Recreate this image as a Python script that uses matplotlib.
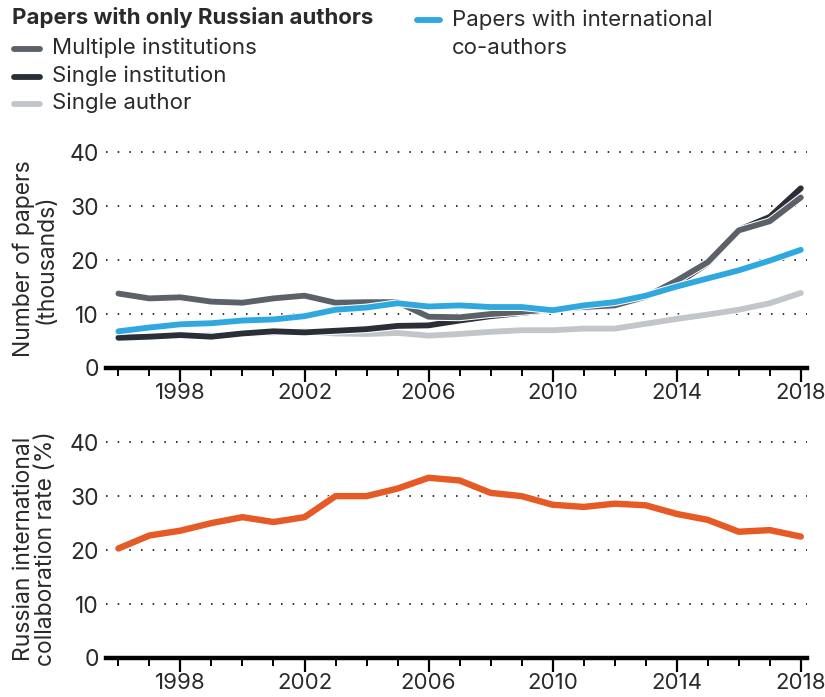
import matplotlib.pyplot as plt
import matplotlib.patheffects as pe
from matplotlib.lines import Line2D
from matplotlib.ticker import MultipleLocator, FixedLocator

plt.rcParams['font.family'] = ['Inter', 'DejaVu Sans']

# Data
years = list(range(1996, 2019))
multiple_inst = [13.8, 12.9, 13.1, 12.3, 12.1, 12.9, 13.4, 12.1, 12.2, 12.2, 9.5, 9.4,
                 10.0, 10.4, 10.9, 11.3, 11.6, 13.2, 16.2, 19.6, 25.5, 27.2, 31.6]
single_inst = [5.6, 5.8, 6.1, 5.8, 6.4, 6.8, 6.6, 6.9, 7.2, 7.8, 7.9, 8.8,
               9.6, 10.2, 10.8, 11.2, 11.5, 13.3, 15.6, 19.4, 25.6, 28.0, 33.3]
single_author = [5.7, 5.9, 6.1, 6.0, 6.3, 6.6, 6.8, 6.4, 6.3, 6.5, 6.0, 6.3,
                 6.7, 7.0, 7.0, 7.3, 7.3, 8.2, 9.1, 9.9, 10.8, 12.0, 13.9]
international = [6.8, 7.5, 8.1, 8.3, 8.8, 9.0, 9.6, 10.8, 11.2, 12.0, 11.4, 11.6,
                 11.3, 11.3, 10.7, 11.6, 12.2, 13.4, 15.1, 16.6, 18.1, 19.9, 21.9]
collab_rate = [20.3, 22.7, 23.6, 25.0, 26.1, 25.2, 26.1, 30.0, 30.0, 31.4, 33.4, 32.9,
               30.6, 30.0, 28.4, 28.0, 28.6, 28.3, 26.7, 25.6, 23.4, 23.7, 22.5]
y_ticks = [0, 10, 20, 30, 40]
x_labels = [1998, 2002, 2006, 2010, 2014, 2018]

c_mult = '#5c6169'
c_single = '#2a2f37'
c_author = '#c2c5ca'
c_blue = '#2ea8df'
c_orange = '#e65a25'
txt = '#2a2a2a'
LW = 4.2
FS = 16      # legend text
TFS = 16     # tick labels
LFS = 16.5   # axis labels

fig = plt.figure(figsize=(8.25, 6.97), dpi=100)
ax1 = fig.add_axes([106 / 825, 1 - 368 / 697, 701 / 825, 218 / 697])
ax2 = fig.add_axes([106 / 825, 1 - 658 / 697, 701 / 825, 218 / 697])

stroke = [pe.Stroke(linewidth=LW + 1.5, foreground='white'), pe.Normal()]

ax1.plot(years, single_author, color=c_author, lw=LW, path_effects=stroke, solid_capstyle='round')
ax1.plot(years, single_inst, color=c_single, lw=LW, path_effects=stroke, solid_capstyle='round')
ax1.plot(years, multiple_inst, color=c_mult, lw=LW, path_effects=stroke, solid_capstyle='round')
ax1.plot(years, international, color=c_blue, lw=LW, path_effects=stroke, solid_capstyle='round')

ax2.plot(years, collab_rate, color=c_orange, lw=LW + 0.4, path_effects=stroke, solid_capstyle='round')

for ax in (ax1, ax2):
    ax.set_xlim(1995.6, 2018.2)
    ax.set_ylim(0, 40.4)
    for s in ('top', 'right', 'left'):
        ax.spines[s].set_visible(False)
    ax.spines['bottom'].set_linewidth(3.2)
    ax.spines['bottom'].set_color('black')
    ax.set_yticks(y_ticks)
    ax.tick_params(axis='y', length=0, pad=5, labelsize=TFS + 0.5, labelcolor=txt)
    ax.xaxis.set_major_locator(FixedLocator(x_labels))
    ax.xaxis.set_minor_locator(MultipleLocator(1))
    ax.set_xticklabels([str(y) for y in x_labels])
    ax.tick_params(axis='x', which='major', length=10, width=1.6, pad=1,
                   labelsize=TFS, labelcolor=txt, color='black')
    ax.tick_params(axis='x', which='minor', length=6, width=1.4, color='black')
    for g in y_ticks[1:]:
        ax.axhline(g, color='#333333', lw=1.4, linestyle=(0, (0.8, 5.2)), zorder=0)

ax1.set_ylabel('Number of papers\n(thousands)', fontsize=LFS, color=txt, labelpad=9,
               linespacing=1.0)
ax2.set_ylabel('Russian international\ncollaboration rate (%)', fontsize=LFS, color=txt,
               labelpad=9, linespacing=1.0)

# Legend drawn as figure text
def fx(px):
    return px / 825

def fy(py):
    return 1 - py / 697

fig.text(fx(12), fy(18), 'Papers with only Russian authors', fontsize=FS, fontweight='bold',
         color=txt, va='center', ha='left')
legend_rows = [('Multiple institutions', c_mult, 48),
               ('Single institution', c_single, 76),
               ('Single author', c_author, 103)]
for label, col, py in legend_rows:
    fig.add_artist(Line2D([fx(14), fx(40)], [fy(py + 1), fy(py + 1)], color=col, lw=LW,
                          solid_capstyle='round', transform=fig.transFigure))
    fig.text(fx(52), fy(py), label, fontsize=FS, color=txt, va='center', ha='left')

fig.add_artist(Line2D([fx(417), fx(440)], [fy(20), fy(20)], color=c_blue, lw=LW,
                      solid_capstyle='round', transform=fig.transFigure))
fig.text(fx(452), fy(20), 'Papers with international', fontsize=FS, color=txt,
         va='center', ha='left')
fig.text(fx(452), fy(48), 'co-authors', fontsize=FS, color=txt, va='center', ha='left')

fig.savefig('out.png', dpi=100)
